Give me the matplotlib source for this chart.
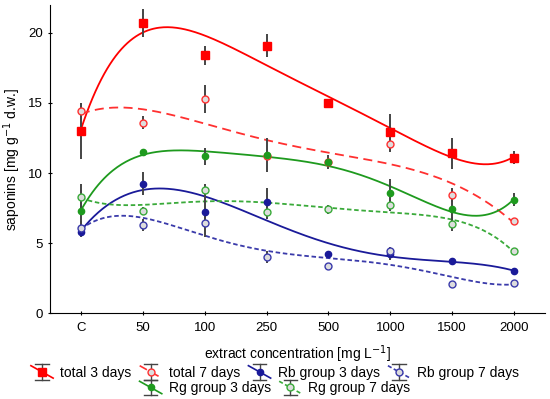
import numpy as np
import matplotlib.pyplot as plt
from matplotlib.legend_handler import HandlerBase
from matplotlib.lines import Line2D

plt.rcParams['font.family'] = ['Liberation Sans', 'DejaVu Sans']

# categories on the x axis
conc = ["C", "50", "100", "250", "500", "1000", "1500", "2000"]

# saponin content [mg/g d.w.] and errors
total_3 = [13.0, 20.7, 18.4, 19.1, 15.0, 12.9, 11.4, 11.1]
total_3_err = [2.0, 1.0, 0.7, 0.8, 0.3, 1.3, 1.1, 0.45]
total_7 = [14.4, 13.6, 15.3, 11.2, 10.8, 12.1, 8.4, 6.6]
total_7_err = [0.6, 0.45, 1.0, 0.3, 0.3, 0.6, 0.5, 0.2]
rb_3 = [5.8, 9.25, 7.25, 7.9, 4.2, 4.2, 3.7, 3.0]
rb_3_err = [0.4, 0.8, 1.2, 1.0, 0.2, 0.4, 0.25, 0.1]
rb_7 = [6.1, 6.3, 6.4, 4.0, 3.35, 4.4, 2.05, 2.15]
rb_7_err = [0.5, 0.45, 1.0, 0.4, 0.1, 0.3, 0.1, 0.15]
rg_3 = [7.3, 11.5, 11.2, 11.3, 10.8, 8.6, 7.45, 8.1]
rg_3_err = [1.5, 0.15, 0.6, 1.2, 0.5, 1.0, 1.4, 0.45]
rg_7 = [8.3, 7.3, 8.8, 7.25, 7.4, 7.7, 6.35, 4.4]
rg_7_err = [0.9, 0.3, 0.4, 0.5, 0.35, 0.4, 0.5, 0.1]

series = [
    # label, values, errors, color, marker, filled, linestyle
    ("total 3 days", total_3, total_3_err, "#ff0000", "s", True, "-"),
    ("total 7 days", total_7, total_7_err, "#ff3030", "o", False, (0, (5, 3))),
    ("Rb group 3 days", rb_3, rb_3_err, "#1a1a99", "o", True, "-"),
    ("Rb group 7 days", rb_7, rb_7_err, "#3a3aaa", "o", False, (0, (2.5, 1.5))),
    ("Rg group 3 days", rg_3, rg_3_err, "#1e9a1e", "o", True, "-"),
    ("Rg group 7 days", rg_7, rg_7_err, "#3aaa3a", "o", False, (0, (2.5, 1.5))),
]


class Sym:
    def __init__(self, **kw):
        self.kw = kw


class SymHandler(HandlerBase):
    # error-bar "I" with a diagonal fit line and the marker on top
    def create_artists(self, legend, h, xd, yd, w, ht, fs, trans):
        k = h.kw
        x0, x1 = -xd, -xd + w
        y0, y1 = -yd - 1, -yd + ht + 1
        xm, ym = (x0 + x1) / 2, (y0 + y1) / 2
        arts = [
            Line2D([x0 + 0.2 * w, x1 - 0.2 * w], [y1, y1], color="#444444", lw=1.0),
            Line2D([x0 + 0.2 * w, x1 - 0.2 * w], [y0, y0], color="#444444", lw=1.0),
            Line2D([xm, xm], [y0, y1], color="#444444", lw=1.0),
            Line2D([x0, x1], [y1 - 1, y0 + 1], color=k["color"], ls=k["ls"], lw=1.2),
            Line2D([xm], [ym], ls="none", marker=k["marker"], ms=k["ms"],
                   mfc=k["mfc"], mec=k["mec"], mew=1.0),
        ]
        for a in arts:
            a.set_transform(trans)
        return arts


fig = plt.figure(figsize=(5.5, 3.99), dpi=100)
ax = fig.add_axes([0.091, 0.2155, 0.9, 0.772])

x = np.arange(len(conc))
xs = np.linspace(0, len(conc) - 1, 300)
handles = []
for label, vals, errs, col, mk, filled, ls in series:
    # smooth fit line
    coef = np.polyfit(x, vals, 5)
    ax.plot(xs, np.polyval(coef, xs), color=col, lw=1.3, ls=ls, zorder=2)
    if mk == "s":
        ms, mfc, mec = 6, col, col
    elif filled:
        ms, mfc, mec = 4.5, col, col
    else:
        ms, mfc, mec = 5, "#dddddd", col
    ax.errorbar(x, vals, yerr=errs, fmt="none", ecolor="#444444",
                elinewidth=1.4, capsize=0, zorder=3)
    ax.plot(x, vals, ls="none", marker=mk, ms=ms, mfc=mfc, mec=mec,
            mew=1.0, zorder=4)
    handles.append((Sym(color=col, ls=ls, marker=mk, ms=ms, mfc=mfc, mec=mec), label))

ax.set_xlim(-0.5, 7.5)
ax.set_ylim(0, 22)
ax.set_xticks(x)
ax.set_xticklabels(conc)
ax.set_yticks([0, 5, 10, 15, 20])
ax.spines["top"].set_visible(False)
ax.spines["right"].set_visible(False)
ax.tick_params(direction="inout", length=3, labelsize=9.5, width=0.8)
ax.tick_params(axis="x", pad=5)
ax.set_xlabel("extract concentration [mg L$^{-1}$]", fontsize=10, labelpad=7)
ax.set_ylabel("saponins [mg g$^{-1}$ d.w.]", fontsize=10, labelpad=4)

hmap = {Sym: SymHandler()}
leg1 = fig.legend([h for h, _ in handles[:4]], [l for _, l in handles[:4]],
                  loc="center", bbox_to_anchor=(0.5, 0.066), ncol=4,
                  frameon=False, fontsize=10, handlelength=1.6, handleheight=1.0,
                  handletextpad=0.5, columnspacing=0.6, borderpad=0,
                  handler_map=hmap)
leg2 = fig.legend([h for h, _ in handles[4:]], [l for _, l in handles[4:]],
                  loc="center", bbox_to_anchor=(0.5, 0.027), ncol=2,
                  frameon=False, fontsize=10, handlelength=1.6, handleheight=1.0,
                  handletextpad=0.5, columnspacing=0.6, borderpad=0,
                  handler_map=hmap)

fig.savefig("out.png", dpi=100)
